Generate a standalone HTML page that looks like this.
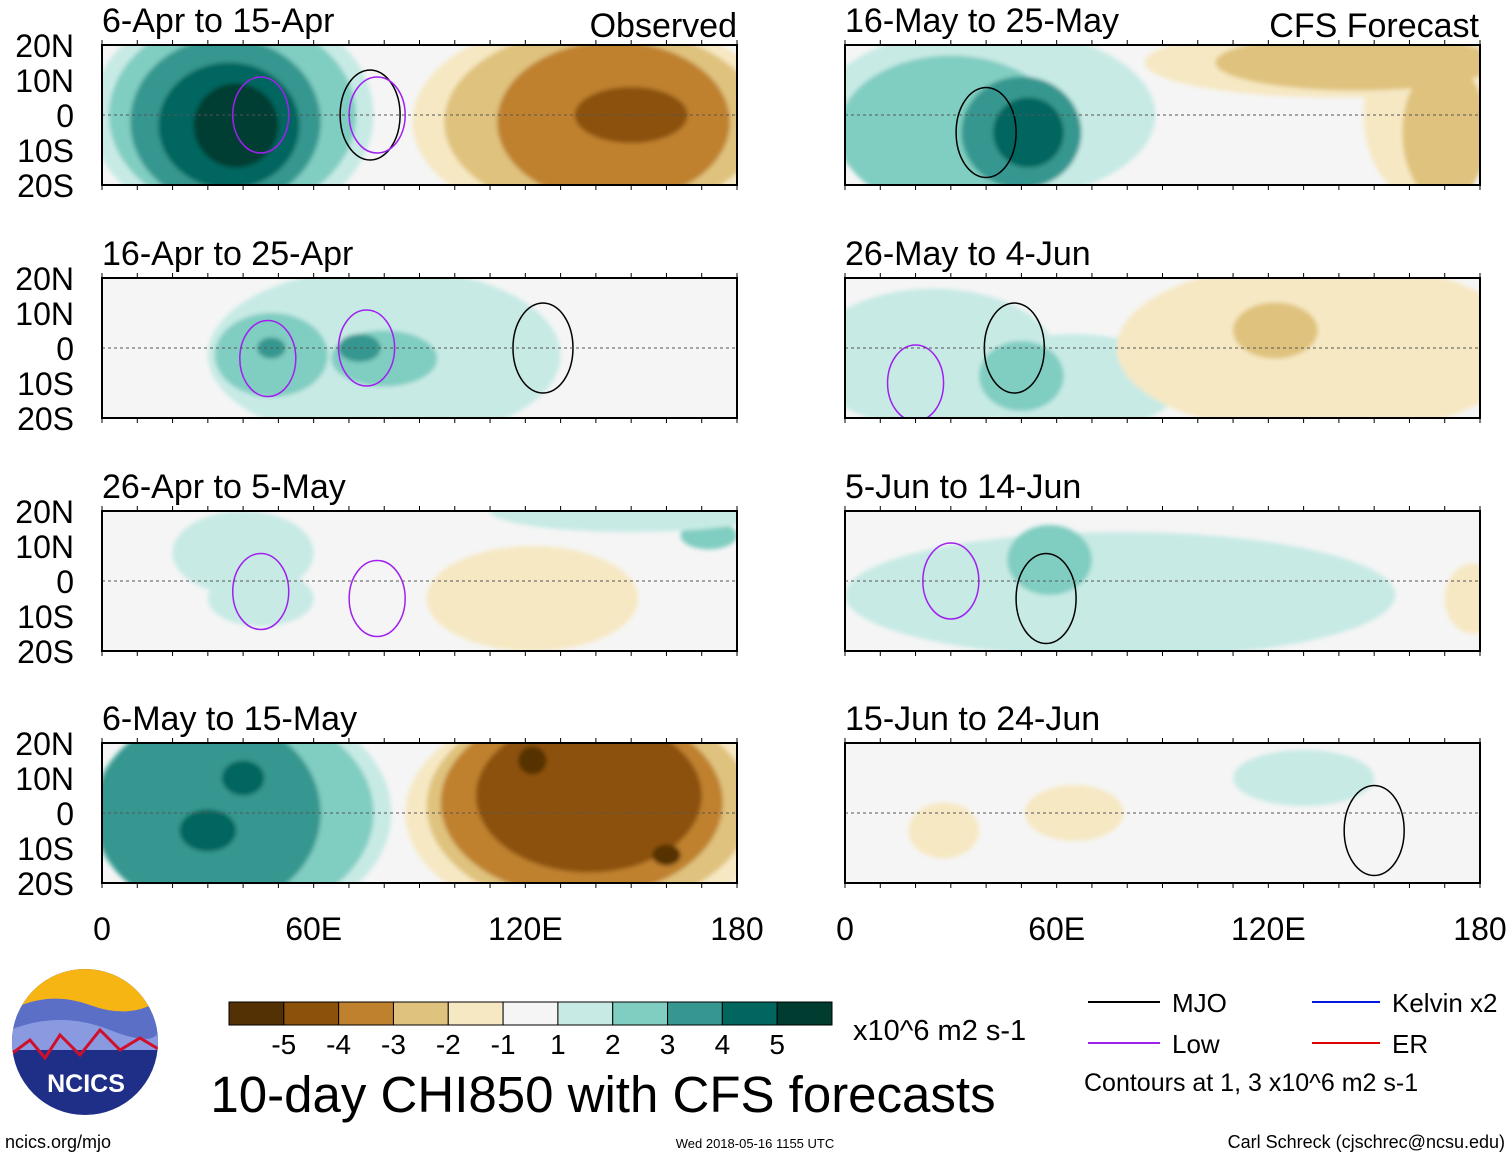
<!DOCTYPE html>
<html><head><meta charset="utf-8"><style>
body{margin:0;background:#fff;font-family:"Liberation Sans",sans-serif}
svg text{font-family:"Liberation Sans",sans-serif}
</style></head><body>
<svg id="chart" width="1510" height="1158" xmlns="http://www.w3.org/2000/svg">
<defs>
<filter id="soft" x="-20%" y="-20%" width="140%" height="140%"><feGaussianBlur stdDeviation="2"/></filter>
</defs>
<g id="panels"></g>
<g id="colorbar"></g>
<g>
<clipPath id="lc"><circle cx="85" cy="1042" r="73"/></clipPath>
<g clip-path="url(#lc)">
<rect x="10" y="968" width="150" height="150" fill="#1f2f87"/>
<rect x="10" y="968" width="150" height="45" fill="#f7b514"/>
<path d="M10 1010 Q50 990 90 1005 T160 1000 L160 1040 L10 1040Z" fill="#5b6fc7"/>
<path d="M10 1030 Q60 1010 110 1030 T160 1025 L160 1050 L10 1050Z" fill="#8a9ae0"/>
<path d="M10 1055 L30 1040 L45 1058 L60 1035 L80 1055 L100 1030 L120 1050 L140 1038 L160 1050" stroke="#d0102a" stroke-width="3" fill="none"/>
</g>
<text x="86" y="1092" font-size="25" font-weight="bold" fill="#fff" text-anchor="middle">NCICS</text>
</g>
<text x="5" y="1148" font-size="18">ncics.org/mjo</text>
<text x="755" y="1148" font-size="13" text-anchor="middle">Wed 2018-05-16 1155 UTC</text>
<text x="1505" y="1148" font-size="18" text-anchor="end">Carl Schreck (cjschrec@ncsu.edu)</text>
<text x="603" y="1112" font-size="51" text-anchor="middle">10-day CHI850 with CFS forecasts</text>
<text x="853" y="1040" font-size="29">x10^6 m2 s-1</text>
<g>
<line x1="1088" y1="1002" x2="1160" y2="1002" stroke="#000" stroke-width="2"/><text x="1172" y="1012" font-size="26">MJO</text>
<line x1="1312" y1="1002" x2="1380" y2="1002" stroke="#0018e0" stroke-width="2"/><text x="1392" y="1012" font-size="26">Kelvin x2</text>
<line x1="1088" y1="1043" x2="1160" y2="1043" stroke="#a020f0" stroke-width="2"/><text x="1172" y="1053" font-size="26">Low</text>
<line x1="1312" y1="1043" x2="1380" y2="1043" stroke="#e00000" stroke-width="2"/><text x="1392" y="1053" font-size="26">ER</text>
<text x="1084" y="1091" font-size="25">Contours at 1, 3 x10^6 m2 s-1</text>
</g>
</svg>
<script>
const levelColors=["#543005","#8c510a","#bf812d","#dfc27d","#f6e8c3","#f5f5f5","#c7eae5","#80cdc1","#35978f","#01665e","#003c30"];
const cbLabels=["-5","-4","-3","-2","-1","1","2","3","4","5"];
const panelTitles=["6-Apr to 15-Apr","16-Apr to 25-Apr","26-Apr to 5-May","6-May to 15-May","16-May to 25-May","26-May to 4-Jun","5-Jun to 14-Jun","15-Jun to 24-Jun"];
const latTicks=[20,10,0,-10,-20];
const latLabels=["20N","10N","0","10S","20S"];
const lonTicks=[0,60,120,180];
const lonLabels=["0","60E","120E","180"];
// blobs per panel: lon, lat, half-width lon, half-height lat, level(-5..5)
const blobLon=[
[37,37,35,36,38,35,140,142,145,150],
[80,48,80,48,73],
[40,45,122,172,150],
[40,37,30,30,40,138,138,136,138,122,160],
[40,30,50,52,140,165,145,170],
[25,65,50,135,122],
[78,58,178],
[130,65,28]];
const blobLat=[
[0,0,-2,-3,-3,-8,-2,-2,-2,0],
[-2,-2,-3,0,0],
[8,-5,-5,13,20],
[0,0,0,-5,10,0,2,3,5,15,-12],
[0,-5,-5,-5,15,0,15,-5],
[-3,-10,-8,0,5],
[-4,6,-5],
[10,0,-5]];
const blobRLon=[
[40,35,27,20,12,5,52,45,33,16],
[50,16,15,4,6],
[20,15,30,8,40],
[42,40,32,8,6,52,46,40,32,4,4],
[48,32,17,10,55,18,40,12],
[35,30,12,58,12],
[78,12,8],
[20,14,10]];
const blobRLat=[
[32,28,24,18,12,5,30,27,23,8],
[25,12,8,3,4],
[12,8,15,4,6],
[32,30,28,6,5,32,30,27,22,4,3],
[25,22,16,10,10,25,8,20],
[20,14,10,25,8],
[18,10,10],
[8,8,8]];
const blobLevel=[
[1,2,3,4,5,5,-1,-2,-3,-4],
[1,2,2,3,3],
[1,1,-1,2,1],
[1,2,3,4,4,-1,-2,-3,-4,-5,-5],
[1,2,3,4,-1,-1,-2,-2],
[1,1,2,-1,-2],
[1,2,-1],
[1,-1,-1]];
const mjoLon=[[76],[125],[],[],[40],[48],[57],[150]];
const mjoLat=[[0],[0],[],[],[-5],[0],[-5],[-5]];
const lowLon=[[45,78],[47,75],[45,78],[],[],[20],[30],[]];
const lowLat=[[0,0],[-3,0],[-3,-5],[],[],[-10],[0],[]];

const NS="http://www.w3.org/2000/svg";
const root=document.getElementById('panels');
const W=635,H=140;
const panelX=[102,845];
const panelY=[45,278,511,743];
function mk(tag,attrs,parent){const e=document.createElementNS(NS,tag);for(const k in attrs)e.setAttribute(k,attrs[k]);parent.appendChild(e);return e;}
function lvlColor(l){return levelColors[l+5];}
panelTitles.forEach((t,i)=>{
  const x0=panelX[i<4?0:1],y0=panelY[i%4];
  const xs=lon=>x0+lon/180*W;
  const ys=lat=>y0+(20-lat)/40*H;
  const g=mk('g',{},root);
  
  
  const cid='c'+i;
  const cp=mk('clipPath',{id:cid},g);mk('rect',{x:x0,y:y0,width:W,height:H},cp);
  mk('rect',{x:x0,y:y0,width:W,height:H,fill:'#f5f5f5'},g);
  const fg=mk('g',{'clip-path':'url(#'+cid+')'},g);
  const bg=mk('g',{filter:'url(#soft)'},fg);
  blobLon[i].forEach((lon,j)=>{
    const el=mk('ellipse',{cx:xs(lon),cy:ys(blobLat[i][j]),rx:blobRLon[i][j]/180*W,ry:blobRLat[i][j]/40*H,fill:lvlColor(blobLevel[i][j])},bg);
    
    
  });
  mjoLon[i].forEach((lon,j)=>{mk('ellipse',{cx:xs(lon),cy:ys(mjoLat[i][j]),rx:30,ry:45,fill:'none',stroke:'#000','stroke-width':1.5},fg);});
  lowLon[i].forEach((lon,j)=>{mk('ellipse',{cx:xs(lon),cy:ys(lowLat[i][j]),rx:28,ry:38,fill:'none',stroke:'#a020f0','stroke-width':1.5},fg);});
  mk('line',{x1:x0,y1:ys(0),x2:x0+W,y2:ys(0),stroke:'#555','stroke-dasharray':'3,3','stroke-width':1},g);
  mk('rect',{x:x0,y:y0,width:W,height:H,fill:'none',stroke:'#000','stroke-width':2},g);
  for(let l=0;l<=180;l+=10){mk('line',{x1:xs(l),y1:y0,x2:xs(l),y2:y0-5,stroke:'#000'},g);mk('line',{x1:xs(l),y1:y0+H,x2:xs(l),y2:y0+H+5,stroke:'#000'},g);}
  const tt=mk('text',{x:x0,y:y0-13,'font-size':34},g);tt.textContent=t;
  
  
  if(i<4){latTicks.forEach((lt,k)=>{const tx=mk('text',{x:74,y:ys(lt)+12,'font-size':32,'text-anchor':'end'},g);tx.textContent=latLabels[k];});}
  if(i===3||i===7){lonTicks.forEach((ln,k)=>{const tx=mk('text',{x:xs(ln),y:940,'font-size':32,'text-anchor':'middle'},g);tx.textContent=lonLabels[k];});}
});
const ob=mk('text',{x:737,y:37,'font-size':34,'text-anchor':'end'},root);ob.textContent='Observed';
const cf=mk('text',{x:1479,y:37,'font-size':34,'text-anchor':'end'},root);cf.textContent='CFS Forecast';
const cb=document.getElementById('colorbar');
const bw=603/11;
levelColors.forEach((c,k)=>{const r=mk('rect',{x:229+k*bw,y:1002,width:bw,height:23,fill:c,stroke:'#000','stroke-width':1},cb);

});
cbLabels.forEach((l,k)=>{const tx=mk('text',{x:229+(k+1)*bw,y:1054,'font-size':28,'text-anchor':'middle'},cb);tx.textContent=l;});
</script>
</body></html>
